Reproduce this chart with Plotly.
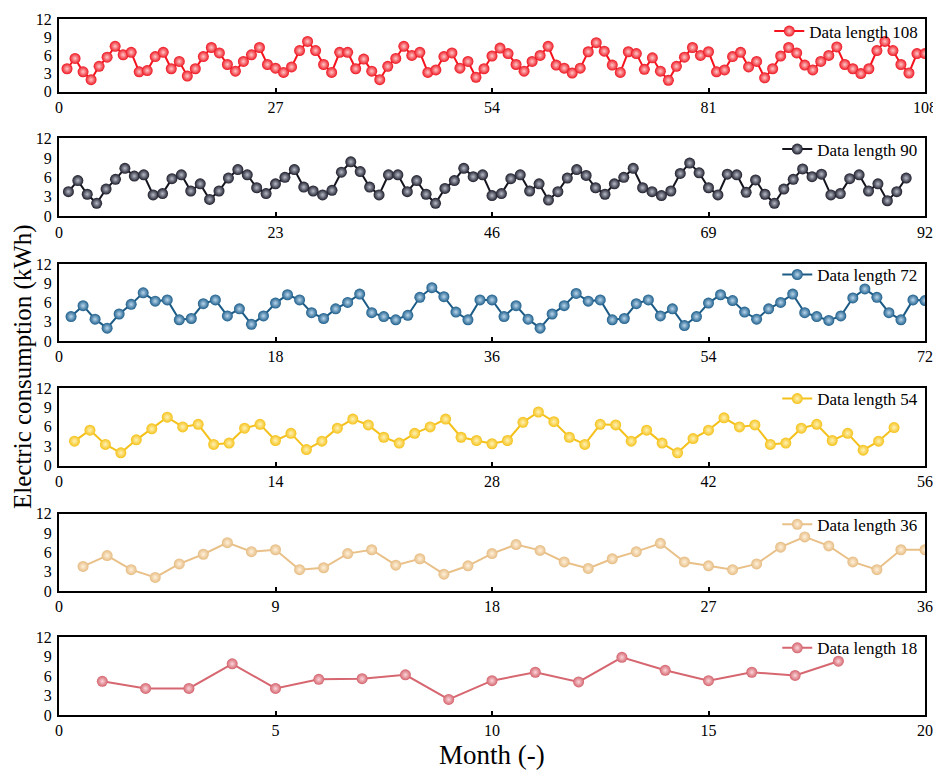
import plotly.graph_objects as go
from plotly.subplots import make_subplots

# ============================================================
# Data (monthly electric consumption, kWh)
# ============================================================
len108 = [3.8, 5.5, 3.3, 2.0, 4.2, 5.7, 7.5, 6.1, 6.5, 3.3, 3.5, 5.8, 6.5, 3.8, 5.0, 2.6, 3.8, 5.8,
          7.3, 6.4, 4.5, 3.4, 5.0, 6.1, 7.3, 4.5, 3.9, 3.2, 4.1, 6.8, 8.3, 6.8, 4.5, 3.2, 6.5, 6.5,
          3.8, 5.4, 3.4, 2.0, 4.2, 5.5, 7.5, 6.0, 6.5, 3.2, 3.6, 5.8, 6.4, 3.9, 5.0, 2.4, 3.8, 5.9,
          7.2, 6.3, 4.5, 3.4, 5.0, 6.0, 7.5, 4.4, 3.9, 3.1, 3.9, 6.6, 8.1, 6.7, 4.4, 3.2, 6.6, 6.3,
          3.7, 5.6, 3.4, 1.9, 4.2, 5.7, 7.3, 6.0, 6.6, 3.3, 3.6, 5.8, 6.5, 4.1, 5.0, 2.3, 3.8, 5.9,
          7.3, 6.4, 4.4, 3.6, 5.0, 6.0, 7.4, 4.5, 3.8, 3.0, 3.8, 6.8, 8.3, 6.8, 4.5, 3.1, 6.3, 6.3]

len90 = [3.8, 5.5, 3.4, 2.0, 4.2, 5.7, 7.4, 6.2, 6.4, 3.3, 3.5, 5.8, 6.4, 3.9, 5.0, 2.6, 3.9, 5.9,
         7.2, 6.4, 4.4, 3.5, 5.0, 6.0, 7.2, 4.5, 3.9, 3.3, 4.0, 6.8, 8.4, 6.9, 4.5, 3.3, 6.4, 6.4,
         3.8, 5.5, 3.4, 2.0, 4.3, 5.5, 7.4, 6.1, 6.4, 3.2, 3.5, 5.8, 6.4, 3.9, 5.0, 2.5, 3.8, 5.9,
         7.2, 6.3, 4.4, 3.4, 5.0, 6.0, 7.4, 4.4, 3.8, 3.2, 3.9, 6.6, 8.2, 6.7, 4.4, 3.3, 6.5, 6.4,
         3.7, 5.6, 3.4, 2.0, 4.2, 5.7, 7.3, 6.1, 6.5, 3.3, 3.5, 5.8, 6.4, 3.9, 5.0, 2.4, 3.8, 5.9]

len72 = [3.8, 5.5, 3.4, 2.0, 4.2, 5.7, 7.5, 6.2, 6.4, 3.3, 3.5, 5.8, 6.4, 3.9, 5.0, 2.6, 3.9, 5.9,
         7.2, 6.4, 4.4, 3.5, 5.0, 6.0, 7.3, 4.4, 3.8, 3.3, 4.0, 6.8, 8.3, 6.9, 4.5, 3.3, 6.4, 6.4,
         3.8, 5.5, 3.4, 2.0, 4.2, 5.5, 7.4, 6.2, 6.4, 3.3, 3.5, 5.8, 6.4, 3.9, 5.0, 2.4, 3.8, 5.9,
         7.2, 6.3, 4.5, 3.4, 5.0, 6.0, 7.3, 4.4, 3.8, 3.2, 3.9, 6.7, 8.1, 6.8, 4.4, 3.3, 6.4, 6.3]

len54 = [3.8, 5.5, 3.3, 2.0, 4.0, 5.7, 7.5, 6.0, 6.4, 3.3, 3.5, 5.8, 6.4, 3.9, 5.0, 2.5, 3.8, 5.8,
         7.2, 6.3, 4.4, 3.5, 5.0, 6.0, 7.2, 4.4, 3.9, 3.4, 3.9, 6.7, 8.3, 6.8, 4.4, 3.3, 6.4, 6.3,
         3.8, 5.5, 3.5, 2.0, 4.2, 5.5, 7.4, 6.0, 6.3, 3.3, 3.5, 5.8, 6.4, 3.9, 5.0, 2.4, 3.8, 5.9]

len36 = [3.8, 5.5, 3.3, 2.1, 4.2, 5.7, 7.5, 6.1, 6.4, 3.3, 3.6, 5.8, 6.4, 4.0, 5.0, 2.6, 3.9, 5.8,
         7.2, 6.3, 4.5, 3.5, 5.0, 6.1, 7.4, 4.5, 3.9, 3.3, 4.2, 6.8, 8.4, 7.0, 4.5, 3.3, 6.4, 6.4]

len18 = [5.2, 4.1, 4.1, 7.9, 4.1, 5.5, 5.6, 6.2, 2.4, 5.3, 6.6, 5.1, 8.9, 6.9, 5.3, 6.6, 6.1, 8.3]

series = [len108, len90, len72, len54, len36, len18]
names = ["Data length 108", "Data length 90", "Data length 72",
         "Data length 54", "Data length 36", "Data length 18"]
x_max = [108, 92, 72, 56, 36, 20]
x_step = [27, 23, 18, 14, 9, 5]

# line colour, ball colour, highlight colour
colors = [
    ("#f5121c", "#ee1520", "#ffc8c8"),
    ("#15151f", "#1c1c2a", "#b8bcc8"),
    ("#1b5b86", "#1d5e8b", "#b9d6ec"),
    ("#f4c11c", "#f5c21a", "#fff2b8"),
    ("#e8c088", "#e6bc82", "#fff1dc"),
    ("#d6666f", "#d4636d", "#fbd6da"),
]

# panel positions (paper fractions)
domains = [
    [0.8954, 1.0],
    [0.7165, 0.8284],
    [0.5374, 0.6481],
    [0.3581, 0.4698],
    [0.1783, 0.2892],
    [0.0, 0.1117],
]

FONT = "Liberation Serif, Times New Roman, serif"

fig = make_subplots(rows=6, cols=1)

for i, ys in enumerate(series):
    line_c, ball_c, hi_c = colors[i]
    leg = "legend" if i == 0 else f"legend{i + 1}"
    fig.add_trace(go.Scatter(
        x=list(range(1, len(ys) + 1)), y=ys,
        mode="lines+markers",
        name=names[i],
        line=dict(color=line_c, width=2),
        marker=dict(size=11, color=ball_c,
                    gradient=dict(type="radial", color=hi_c),
                    line=dict(width=0)),
        legend=leg,
    ), row=i + 1, col=1)

    ax_y = "yaxis" if i == 0 else f"yaxis{i + 1}"
    leg_y = 1.0078 if i == 0 else domains[i][1] + 0.01
    fig.update_layout({
        ax_y: dict(domain=domains[i]),
        leg: dict(x=0.998, xanchor="right", y=leg_y, yanchor="top",
                  bgcolor="rgba(0,0,0,0)", borderwidth=0,
                  font=dict(family=FONT, size=17, color="black"),
                  tracegroupgap=0),
    })
    fig.update_xaxes(range=[0, x_max[i]], tickvals=list(range(0, x_max[i] + 1, x_step[i])),
                     row=i + 1, col=1)

fig.update_xaxes(showgrid=False, zeroline=False, showline=True, linecolor="black",
                 linewidth=2, mirror=True, ticks="inside", ticklen=4, tickwidth=1.5,
                 tickcolor="black", automargin=False, ticklabeloverflow="allow",
                 tickfont=dict(family=FONT, size=16, color="black"))
fig.update_yaxes(range=[0, 12], tickvals=[0, 3, 6, 9, 12], showgrid=False, zeroline=False,
                 showline=True, linecolor="black", linewidth=2, mirror=True, ticks="",
                 ticklabelstandoff=2, automargin=False, ticklabeloverflow="allow",
                 tickfont=dict(family=FONT, size=16, color="black"))

fig.add_annotation(text="Electric consumption (kWh)", textangle=-90,
                   xref="paper", yref="paper", x=0, y=0.5, xanchor="center",
                   yanchor="middle", xshift=-36, showarrow=False,
                   font=dict(family=FONT, size=25, color="black"))
fig.add_annotation(text="Month (-)", xref="paper", yref="paper", x=0.5, y=0,
                   xanchor="center", yanchor="middle", yshift=-40, showarrow=False,
                   font=dict(family=FONT, size=27, color="black"))

# page body adds 8px on the top/left, so the figure is a bit smaller than the window
fig.update_layout(
    width=933, height=772,
    margin=dict(l=51, r=16, t=6, b=65),
    plot_bgcolor="white", paper_bgcolor="white",
    font=dict(family=FONT, color="black"),
    showlegend=True,
)

fig.write_html("out.html")
